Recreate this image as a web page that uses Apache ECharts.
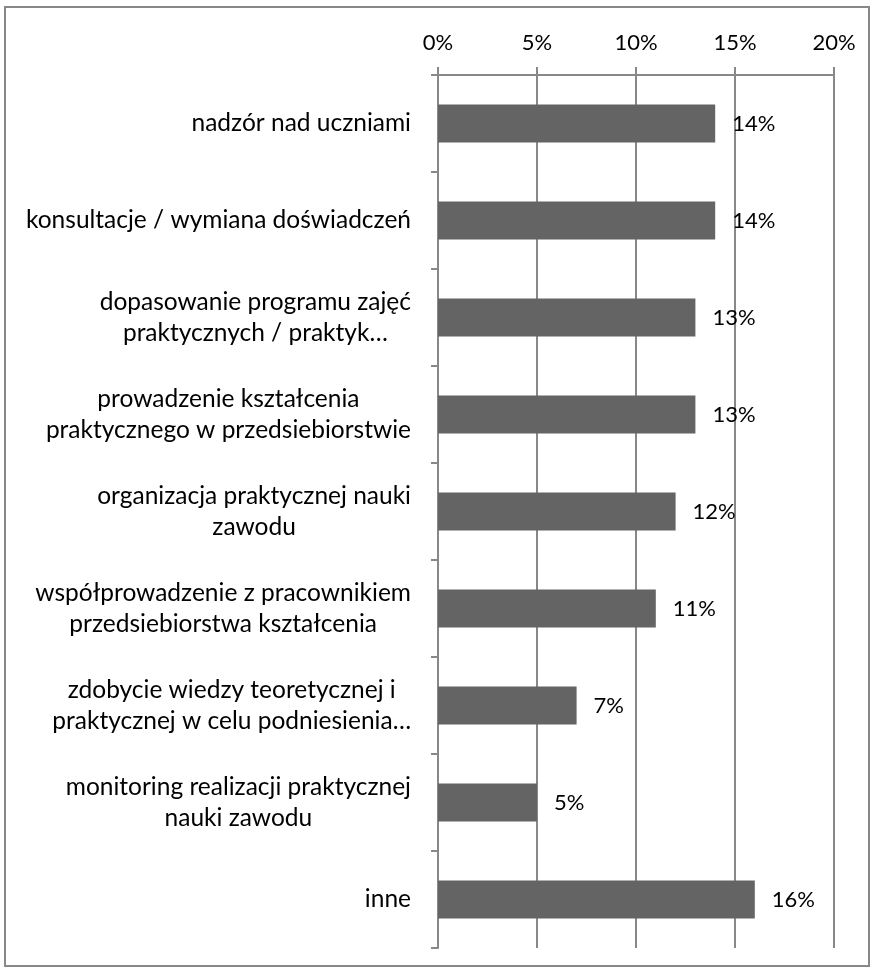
<!DOCTYPE html>
<html>
<head>
<meta charset="utf-8">
<script src="https://cdn.jsdelivr.net/npm/echarts@6/dist/echarts.min.js"></script>
<style>
  html, body { margin: 0; padding: 0; background: #fff; }
  #chart { width: 875px; height: 972px; }
</style>
</head>
<body>
<div id="chart"></div>
<script>
// Forms of cooperation (share of answers, %)
const categories = [
  'nadzór nad uczniami',
  'konsultacje / wymiana doświadczeń',
  'dopasowanie programu zajęć\npraktycznych / praktyk…',
  'prowadzenie kształcenia\npraktycznego w przedsiebiorstwie',
  'organizacja praktycznej nauki\nzawodu',
  'współprowadzenie z pracownikiem\nprzedsiebiorstwa kształcenia',
  'zdobycie wiedzy teoretycznej i\npraktycznej w celu podniesienia…',
  'monitoring realizacji praktycznej\nnauki zawodu',
  'inne'
];
const values = [14, 14, 13, 13, 12, 11, 7, 5, 16];
const axisMin = 0;
const axisMax = 20;
const axisStep = 5;

const FONT = 'Lato';
const NUM_SIZE = 22;
const CAT_SIZE = 24.5;
const GREY = '#888888';

const chart = echarts.init(document.getElementById('chart'));
chart.setOption({
  animation: false,
  backgroundColor: '#fff',
  textStyle: { fontFamily: FONT },
  graphic: [{
    type: 'rect',
    shape: { x: 5, y: 7, width: 864, height: 959 },
    style: { fill: 'none', stroke: GREY, lineWidth: 2 },
    silent: true
  }],
  grid: { left: 438, right: 41, top: 75, bottom: 24 },
  xAxis: {
    type: 'value',
    position: 'top',
    min: axisMin,
    max: axisMax,
    interval: axisStep,
    axisLine: { show: true, lineStyle: { color: GREY, width: 2 } },
    axisTick: { show: true, length: 8, lineStyle: { color: GREY, width: 2 } },
    splitLine: { show: true, lineStyle: { color: GREY, width: 2 } },
    axisLabel: {
      formatter: '{value}%',
      color: '#000',
      fontFamily: FONT,
      fontSize: NUM_SIZE,
      margin: 21
    }
  },
  yAxis: {
    type: 'category',
    inverse: true,
    data: categories,
    axisLine: { show: true, lineStyle: { color: GREY, width: 2 } },
    axisTick: { show: true, length: 7, lineStyle: { color: GREY, width: 2 } },
    splitLine: { show: false },
    axisLabel: {
      margin: 27,
      formatter: function (v) { return '{c|' + v + '}'; },
      rich: {
        c: {
          align: 'center',
          color: '#000',
          fontFamily: FONT,
          fontSize: CAT_SIZE,
          lineHeight: 31
        }
      }
    }
  },
  series: [{
    type: 'bar',
    data: values,
    barWidth: 38,
    itemStyle: { color: '#646464' },
    label: {
      show: true,
      position: 'right',
      distance: 17,
      formatter: '{c}%',
      color: '#000',
      fontFamily: FONT,
      fontSize: NUM_SIZE
    }
  }]
});
</script>
</body>
</html>
